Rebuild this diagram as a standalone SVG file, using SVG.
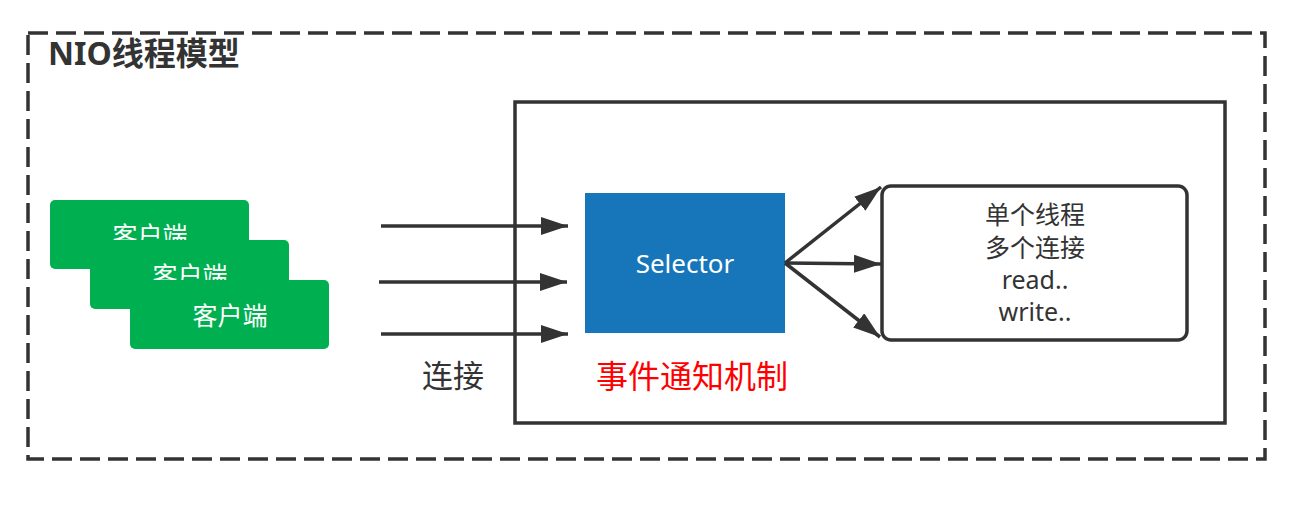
<svg xmlns="http://www.w3.org/2000/svg" width="1301" height="505" viewBox="0 0 1301 505">
<style>
.t{font-family:"Noto Sans","Noto Sans CJK SC",sans-serif;}
.card{fill:#00B050;}
.ct{fill:#fff;font-size:25px;text-anchor:middle;}
.dk{fill:#333;}
.ln{stroke:#333;stroke-width:3.5;fill:none;}
</style>
<defs>
<marker id="ah" markerUnits="userSpaceOnUse" markerWidth="28" markerHeight="18" refX="27" refY="9" orient="auto">
<path d="M0,0 L27,9 L0,18 z" fill="#333"/>
</marker>
</defs>
<rect width="1301" height="505" fill="#fff"/>
<g id="frame">
<rect x="28" y="33" width="1237" height="426" fill="none" stroke="#333" stroke-width="3.5" stroke-dasharray="20 8"/>
<text class="t dk" x="48" y="65" font-size="32" font-weight="bold">NIO线程模型</text>
</g>
<g id="server">
<rect x="515" y="102" width="710" height="321" fill="none" stroke="#333" stroke-width="3.5"/>
</g>
<g id="client1">
<rect class="card" x="50" y="200" width="199" height="69" rx="5"/>
<text class="t ct" x="150" y="245">客户端</text>
</g>
<g id="client2">
<rect class="card" x="90" y="240" width="199" height="69" rx="5"/>
<text class="t ct" x="190" y="285">客户端</text>
</g>
<g id="client3">
<rect class="card" x="130" y="280" width="199" height="69" rx="5"/>
<text class="t ct" x="230" y="325">客户端</text>
</g>
<g id="selector">
<rect x="585" y="193" width="200" height="140" fill="#1776BA"/>
<text class="t" x="685" y="273" font-size="26" fill="#fff" text-anchor="middle">Selector</text>
</g>
<g id="event-label">
<text class="t" x="692" y="388" font-size="32" fill="#FF0000" text-anchor="middle">事件通知机制</text>
</g>
<g id="conn-label">
<text class="t dk" x="453" y="387" font-size="31" text-anchor="middle">连接</text>
</g>
<g id="worker">
<rect x="882" y="186" width="305" height="154" rx="9" fill="#fff" stroke="#333" stroke-width="3.5"/>
<g class="t dk" font-size="25" text-anchor="middle">
<text x="1035" y="224">单个线程</text>
<text x="1035" y="257">多个连接</text>
<text x="1035" y="289">read..</text>
<text x="1035" y="321">write..</text>
</g>
</g>
<g id="connectors">
<line class="ln" x1="381" y1="226" x2="568" y2="226" marker-end="url(#ah)"/>
<line class="ln" x1="379" y1="282" x2="567" y2="282" marker-end="url(#ah)"/>
<line class="ln" x1="381" y1="334" x2="568" y2="334" marker-end="url(#ah)"/>
<line class="ln" x1="785" y1="263" x2="881" y2="187" marker-end="url(#ah)"/>
<line class="ln" x1="785" y1="263" x2="881" y2="264" marker-end="url(#ah)"/>
<line class="ln" x1="785" y1="263" x2="880" y2="337" marker-end="url(#ah)"/>
</g>
</svg>
